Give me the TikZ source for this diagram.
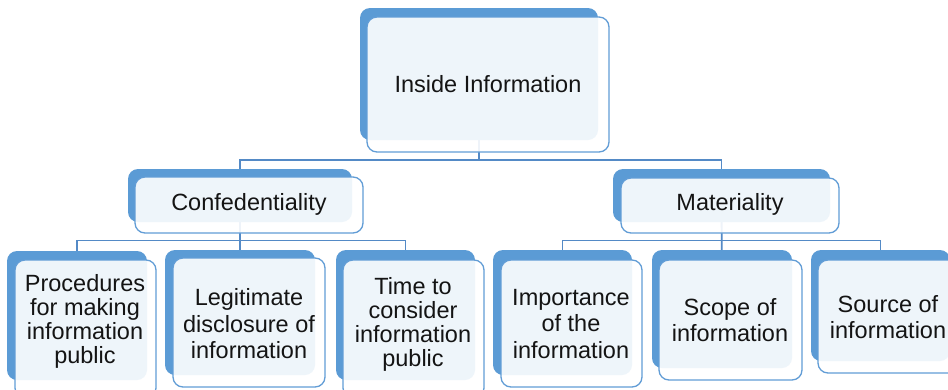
\documentclass[tikz,border=0pt]{standalone}
\usepackage{fontspec}
\setmainfont{Liberation Sans}
\definecolor{backblue}{RGB}{91,155,213}
\definecolor{edgeblue}{RGB}{98,157,214}
\definecolor{linkblue}{RGB}{84,138,198}
\definecolor{txt}{RGB}{20,20,20}
\pgfdeclarelayer{paper}
\pgfdeclarelayer{bg}
\pgfsetlayers{paper,bg,main}
\tikzset{
  backbox/.style={rectangle, rounded corners=10pt, fill=backblue, draw=none, inner sep=0pt, outer sep=0pt},
  frontbox/.style={rectangle, rounded corners=10pt, fill=white, fill opacity=0.9, draw=edgeblue, draw opacity=1, line width=1.3pt, inner sep=0pt, outer sep=0pt},
  lbl/.style={align=center, text=txt, inner sep=0pt, font=\fontsize{23.5}{24}\selectfont},
  lblwide/.style={lbl, font=\fontsize{23.5}{26.5}\selectfont},
  link/.style={draw=linkblue, line width=1.8pt}
}
% name, back x1,y1,x2,y2, front x1,y1,x2,y2
\newcommand{\twobox}[9]{%
  \pgfmathsetmacro\bcx{(#2+#4)/2}\pgfmathsetmacro\bcy{(#3+#5)/2}%
  \pgfmathsetmacro\bw{#4-#2}\pgfmathsetmacro\bh{#5-#3}%
  \node[backbox, minimum width=\bw pt, minimum height=\bh pt] (#1B) at (\bcx,\bcy) {};
  \pgfmathsetmacro\fcx{(#6+#8)/2}\pgfmathsetmacro\fcy{(#7+#9)/2}%
  \pgfmathsetmacro\fw{#8-#6}\pgfmathsetmacro\fh{#9-#7}%
  \node[frontbox, minimum width=\fw pt, minimum height=\fh pt] (#1F) at (\fcx,\fcy) {};
}
\begin{document}
\begin{tikzpicture}[x=1pt,y=-1pt]
\useasboundingbox (0,0) rectangle (948,389);
\clip (0,0) rectangle (948,389);
\begin{pgfonlayer}{paper}
\fill[white] (0,0) rectangle (948,389);
\end{pgfonlayer}

\twobox{top}{360}{8}{598}{140}{367}{17}{609}{152}
\twobox{conf}{128}{169}{352}{222}{135}{177}{363}{233}
\twobox{mat}{613}{169}{830}{222}{621}{178}{839}{233}
\twobox{proc}{7}{251}{147}{380}{15}{260}{156}{398}
\twobox{legit}{165}{250}{315}{375}{173}{258}{325}{387}
\twobox{time}{336}{250}{475}{380}{343}{260}{484}{398}
\twobox{imp}{493}{250}{632}{375}{501}{260}{642}{387}
\twobox{scope}{652}{250}{792}{368}{659}{260}{802}{380}
\twobox{source}{811}{250}{950}{361}{818}{260}{958}{373}

\node[lbl] (topT) at (488,84) {Inside Information};
\node[lbl] (confT) at (249,204) {Confedentiality};
\node[lbl] (matT) at (730,204) {Materiality};
\node[lbl] (procT) at (85,321) {Procedures\\for making\\information\\public};
\node[lblwide] (legitT) at (249,324) {Legitimate\\disclosure of\\information};
\node[lbl] (timeT) at (413,324) {Time to\\consider\\information\\public};
\node[lblwide] (impT) at (571,324) {Importance\\of the\\information};
\node[lblwide] (scopeT) at (730,320) {Scope of\\information};
\node[lblwide] (sourceT) at (888,317) {Source of\\information};

\coordinate (bus1) at (0,160);
\coordinate (bus2) at (0,240.5);

\begin{pgfonlayer}{bg}
\draw[link] (topB.center) -- (topB.center |- bus1) -| (confB.center);
\draw[link] (topB.center |- bus1) -| (matB.center);
\draw[link] (confB.center) -- (confB.center |- bus2) -| (procB.center);
\draw[link] (confB.center |- bus2) -| (timeB.center);
\draw[link] (confB.center) -- (legitB.center);
\draw[link] (matB.center) -- (matB.center |- bus2) -| (impB.center);
\draw[link] (matB.center |- bus2) -| (sourceB.center);
\draw[link] (matB.center) -- (scopeB.center);
\end{pgfonlayer}
\end{tikzpicture}
\end{document}
